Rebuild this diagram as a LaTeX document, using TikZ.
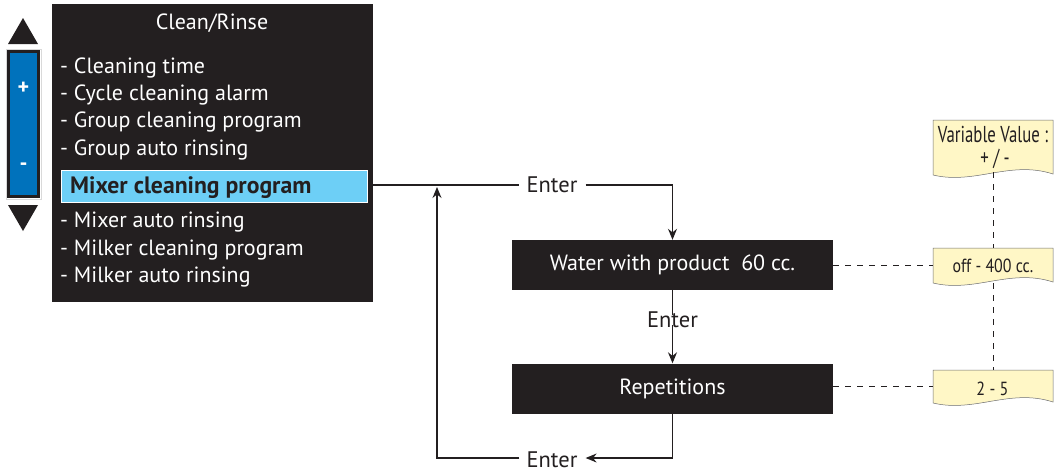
\documentclass[tikz,border=0pt]{standalone}
\usepackage{fontspec}
\usepackage{graphicx}
\setmainfont{PT Sans}
\usetikzlibrary{arrows.meta}
\definecolor{panelbk}{HTML}{231F20}
\definecolor{hlblue}{HTML}{6DCFF6}
\definecolor{barblue}{HTML}{0072BC}
\definecolor{noteyel}{HTML}{FFF7C6}
\definecolor{noteline}{HTML}{6D6E71}
\tikzset{
  menuitem/.style={anchor=base west, inner sep=0pt, text=white, font=\fontsize{22}{26}\selectfont},
  stepbox/.style={fill=panelbk, minimum width=321pt, minimum height=50pt, inner sep=0pt, text=white, font=\fontsize{22}{26}\selectfont},
  enterlbl/.style={inner sep=0pt, text=panelbk, font=\fontsize{22.5}{26}\selectfont},
  flow/.style={line width=1.2pt, draw=panelbk},
  flowarrow/.style={flow, -{Stealth[length=11pt,width=9pt]}},
  guide/.style={line width=0.9pt, draw=panelbk, dash pattern=on 6pt off 6pt},
  notearea/.style={inner sep=0pt, minimum width=120pt},
  notetext/.style={anchor=base, inner sep=0pt, text=panelbk},
  notebg/.style={fill=noteyel, draw=noteline, line width=0.5pt},
}
\newcommand{\narrow}[2]{\scalebox{#1}[1]{#2}}
\begin{document}
\begin{tikzpicture}[x=1pt,y=-1pt]
\useasboundingbox (0,0) rectangle (1055,472);

% up / down keys with the +/- bar
\fill[panelbk] (8,44) -- (38,44) -- (23,18) -- cycle;
\fill[panelbk] (8,205) -- (38,205) -- (23,231) -- cycle;
\draw[draw=black!15, line width=0.6pt] (6,49) rectangle (41,199);
\draw[fill=barblue, draw=panelbk, line width=2.5pt] (8.5,51.5) rectangle (38.5,196.5);
\node[text=white, font=\fontsize{22}{24}\selectfont\bfseries, inner sep=0pt] (plus) at (23.5,88) {+};
\node[text=white, font=\fontsize{22}{24}\selectfont\bfseries, inner sep=0pt] (minus) at (23.5,167) {-};

% menu panel
\node[fill=panelbk, minimum width=321pt, minimum height=298pt, inner sep=0pt, anchor=north west] (panel) at (52,4) {};
\node[anchor=base, inner sep=0pt, text=white, font=\fontsize{22}{26}\selectfont] (title) at (212,29) {Clean/Rinse};
\node[menuitem] (m1) at (60,73) {- Cleaning time};
\node[menuitem] (m2) at (60,100) {- Cycle cleaning alarm};
\node[menuitem] (m3) at (60,127) {- Group cleaning program};
\node[menuitem] (m4) at (60,155) {- Group auto rinsing};
\node[fill=hlblue, draw=white, line width=1.5pt, minimum width=306pt, minimum height=32pt, inner sep=0pt, anchor=north west] (hl) at (60.5,169.5) {};
\node[anchor=base west, inner sep=0pt, text=panelbk, font=\fontsize{23.7}{26}\selectfont\bfseries] (hltext) at (70,193) {Mixer cleaning program};
\node[menuitem] (m6) at (60,227) {- Mixer auto rinsing};
\node[menuitem] (m7) at (60,255) {- Milker cleaning program};
\node[menuitem] (m8) at (60,282) {- Milker auto rinsing};

% parameter steps
\node[stepbox] (water) at (672.5,265) {Water with product\ \ 60 cc.};
\node[stepbox] (reps) at (672.5,388.5) {Repetitions};

% Enter labels
\node[enterlbl] (enter1) at (552,185) {Enter};
\node[enterlbl] (enter2) at (672.5,320) {Enter};
\node[enterlbl] (enter3) at (552,459.5) {Enter};
\coordinate (start) at (panel.east |- enter1.west);
\coordinate (back) at (437,187);

% flow connectors
\draw[flow] (start) -- ([xshift=-7pt]enter1.west);
\draw[flowarrow] ([xshift=8pt]enter1.east) -| (water.north);
\draw[flow] (water.south) -- ([yshift=-3pt]enter2.north);
\draw[flowarrow] ([yshift=3pt]enter2.south) -- (reps.north);
\draw[flowarrow] (reps.south) |- ([xshift=8pt,yshift=1.5pt]enter3.east);
\draw[flowarrow] ([xshift=-7pt,yshift=1.5pt]enter3.west) -| (back);

% value notes with wavy lower edge
\path[notebg] (933,120) -- (1053,120) -- (1053,174) .. controls (1010,160) and (975,185) .. (933,175) -- cycle;
\path[notebg] (933,248) -- (1053,248) -- (1053,282) .. controls (1010,268) and (975,293) .. (933,283) -- cycle;
\path[notebg] (933,370) -- (1053,370) -- (1053,402) .. controls (1010,388) and (975,413) .. (933,403) -- cycle;
\node[notearea, minimum height=55pt] (vv) at (993,147.5) {};
\node[notearea, minimum height=35pt] (range1) at (993,265.5) {};
\node[notearea, minimum height=33pt] (range2) at (993,386.5) {};
\node[notetext, font=\fontsize{23}{26}\selectfont] (vvline1) at (993,142) {\narrow{0.73}{Variable Value :}};
\node[notetext, font=\fontsize{23}{26}\selectfont] (vvline2) at (995,165) {\narrow{0.73}{+ / -}};
\node[notetext, font=\fontsize{19}{22}\selectfont] (range1txt) at (993,272.5) {\narrow{0.84}{off - 400 cc.}};
\node[notetext, font=\fontsize{19}{22}\selectfont] (range2txt) at (992.5,395) {\narrow{0.85}{2 - 5}};

% dashed guides
\draw[guide] (water.east) -- (water.east -| range1.west);
\draw[guide] (reps.east |- range2.west) -- (range2.west);
\draw[guide] ([yshift=3pt]vv.south) -- (range1.north);
\draw[guide] (range1.south) -- (range2.north);
\end{tikzpicture}
\end{document}
